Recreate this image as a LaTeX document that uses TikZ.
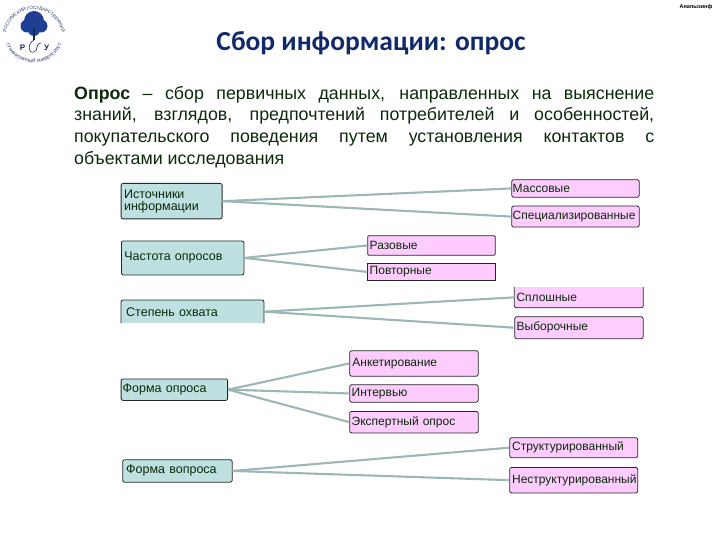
\documentclass[tikz,border=0pt]{standalone}
\usepackage{fontspec}
\setmainfont{Liberation Sans}
\newfontfamily\titlefont{Carlito}
\usepackage{xcolor}
\definecolor{colTitle}{HTML}{10296B}
\definecolor{colText}{HTML}{0A2A0A}
\definecolor{colLogo}{HTML}{1F3F94}
\definecolor{colHead}{HTML}{BFE0E0}
\definecolor{colItem}{HTML}{FFCCFF}
\definecolor{colLink}{HTML}{9DB6B6}
\usetikzlibrary{positioning, decorations.text}
\tikzset{
	plainbox/.style={anchor=north west, align=left, inner ysep=0pt, text=colText},
	boxbase/.style={plainbox, draw=black!85, line width=0.8pt},
	headbox/.style={boxbase, fill=colHead, rounded corners=2pt, font=\fontsize{12.5}{12}\selectfont},
	itembox/.style={boxbase, fill=colItem, rounded corners=2pt, font=\fontsize{12}{12}\selectfont},
	boxsize/.style 2 args={inner xsep=#2, text width=#1-2*#2},
	link/.style={colLink, line width=2.1pt},
	logotext/.style={decorate, decoration={text along path, text align=center,
		text={|\fontsize{4.4}{5}\selectfont\color{colLogo!70!black}|#1}}},
}
\begin{document}
\begin{tikzpicture}[x=1pt, y=-1pt]
	\useasboundingbox (0,0) rectangle (720,540);
	% logo
	\path[logotext={РОССИЙСКИЙ ГОСУДАРСТВЕННЫЙ}] (5.6,35.5) arc[start angle=185, end angle=355, radius=28.5];
	\path[logotext={ГУМАНИТАРНЫЙ УНИВЕРСИТЕТ}] (4.1,35.6) arc[start angle=175, end angle=5, radius=30];
	\fill[colLogo] (34,21) circle (10pt);
	\fill[colLogo] (27,26) circle (6.5pt);
	\fill[colLogo] (41,26) circle (6.5pt);
	\fill[colLogo] (34,30) circle (6pt);
	\draw[colLogo!60!black, line width=1.6pt] (34,28) -- (34,40);
	\node[font=\fontsize{8}{8}\bfseries\selectfont, text=colLogo!60!black] (logoP) at (22.5,48) {Р};
	\node[font=\fontsize{8}{8}\bfseries\selectfont, text=colLogo!60!black] (logoU) at (46.5,48) {У};
	\draw[colLogo!60!black, line width=0.6pt] (34,40) .. controls (27,44) and (28,54) .. (34,52) .. controls (39,50) and (35,43) .. (41,43);
	% header
	\node[font=\fontsize{5.5}{6}\bfseries\selectfont, text=black] (tag) at (696,7) {Анапызинф};
	\node[font=\titlefont\bfseries\fontsize{27.5}{30}\selectfont, text=colTitle] (title) at (371,43) {Сбор информации: опрос};
	\node[anchor=north west, inner sep=0pt, text width=580pt, align=justify, text=colText,
		font=\fontsize{17.8}{21.7}\selectfont] (intro) at (74,86)
		{\textbf{Опрос} -- сбор первичных данных, направленных на выяснение\linebreak знаний, взглядов, предпочтений потребителей и особенностей,\linebreak покупательского поведения путем установления контактов с\linebreak объектами исследования};
	% left column
	\node[headbox, boxsize={101pt}{3pt}, minimum height=35.5pt] (source) at (120.7,183) {Источники\\информации};
	\node[headbox, boxsize={122.5pt}{3pt}, minimum height=34pt] (freq) at (121,240.5) {Частота опросов};
	\node[plainbox, fill=colHead, boxsize={142.5pt}{5pt}, minimum height=23pt, font=\fontsize{12.5}{12}\selectfont] (cover) at (121,300) {Степень охвата};
	\draw[draw=black!85, line width=0.8pt, rounded corners=2pt] (cover.south west) -- (cover.north west) -- (cover.north east) -- (cover.south east);
	\node[headbox, boxsize={106.5pt}{1.6pt}, minimum height=21.5pt] (form) at (120.7,378.5) {Форма опроса};
	\node[headbox, boxsize={109.5pt}{3.5pt}, minimum height=22.5pt] (quest) at (122.3,459.3) {Форма вопроса};
	% right column
	\node[itembox, boxsize={127.5pt}{1pt}, minimum height=17.5pt] (mass) at (511.3,179.3) {Массовые};
	\node[itembox, boxsize={127.5pt}{1pt}, minimum height=21pt] (spec) at (511.3,205.7) {Специализированные};
	\node[itembox, rounded corners=1pt, boxsize={127.5pt}{2pt}, minimum height=19.5pt] (once) at (367.3,235.3) {Разовые};
	\node[itembox, sharp corners, boxsize={127.5pt}{2pt}, minimum height=16.5pt] (again) at (367.3,263.3) {Повторные};
	\node[plainbox, fill=colItem, boxsize={128.5pt}{2pt}, minimum height=20.3pt, font=\fontsize{12}{12}\selectfont] (full) at (514.3,287) {Сплошные};
	\draw[draw=black!85, line width=0.8pt, rounded corners=2pt] (full.north west) -- (full.south west) -- (full.south east) -- (full.north east);
	\node[itembox, boxsize={128.5pt}{2pt}, minimum height=22pt] (sample) at (514.3,316.3) {Выборочные};
	\node[itembox, boxsize={128.5pt}{2.7pt}, minimum height=25.5pt] (anket) at (349.3,350.3) {Анкетирование};
	\node[itembox, boxsize={128.5pt}{2pt}, minimum height=17.5pt] (inter) at (349.3,384.3) {Интервью};
	\node[itembox, boxsize={128.5pt}{2pt}, minimum height=21.5pt] (expert) at (349.3,411) {Экспертный опрос};
	\node[itembox, boxsize={128pt}{2.4pt}, minimum height=20pt] (struct) at (509.3,437.3) {Структурированный};
	\node[itembox, boxsize={128pt}{2.4pt}, minimum height=25.5pt] (unstruct) at (509.3,467) {Неструктурированный};
	% connectors
	\draw[link] (source.east) -- (mass.west);
	\draw[link] (source.east) -- (spec.west);
	\draw[link] (freq.east) -- (once.west);
	\draw[link] (freq.east) -- (again.west);
	\draw[link] (cover.east) -- (full.west);
	\draw[link] (cover.east) -- (sample.west);
	\draw[link] (form.east) -- (anket.west);
	\draw[link] (form.east) -- (inter.west);
	\draw[link] (form.east) -- (expert.west);
	\draw[link] (quest.east) -- (struct.west);
	\draw[link] (quest.east) -- (unstruct.west);
\end{tikzpicture}
\end{document}
